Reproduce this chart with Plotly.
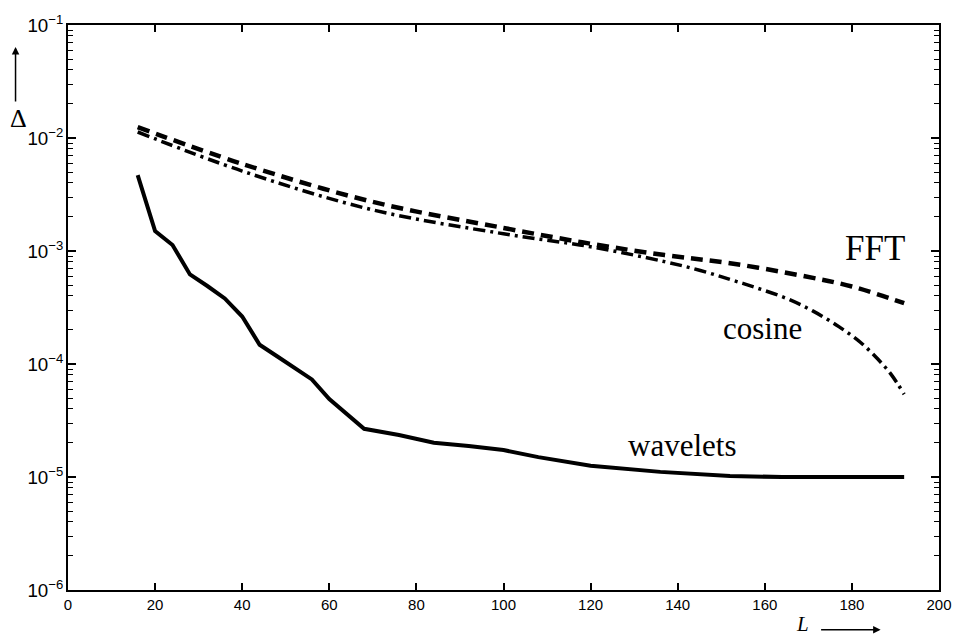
import plotly.graph_objects as go

# ---- data ----
L_wav = [16, 20, 24, 28, 32, 36, 40, 44, 48, 56, 60, 68, 76, 84, 92, 100, 108, 120, 136, 152, 164, 192]
wavelets = [4.7e-3, 1.50e-3, 1.13e-3, 6.2e-4, 4.9e-4, 3.8e-4, 2.63e-4, 1.48e-4, 1.17e-4, 7.3e-5,
            4.9e-5, 2.67e-5, 2.35e-5, 2.01e-5, 1.88e-5, 1.73e-5, 1.50e-5, 1.26e-5, 1.11e-5,
            1.02e-5, 1.0e-5, 1.0e-5]

L_fft = [16, 40, 70, 100, 120, 137, 152, 168, 180, 192]
fft = [1.25e-2, 5.9e-3, 2.72e-3, 1.60e-3, 1.16e-3, 9.2e-4, 7.8e-4, 6.1e-4, 4.85e-4, 3.45e-4]

L_cos = [16, 40, 70, 100, 120, 137, 145, 152, 158, 165, 171, 177, 182, 186, 189, 192]
cosine = [1.13e-2, 5.1e-3, 2.31e-3, 1.42e-3, 1.09e-3, 8.05e-4, 6.76e-4, 5.6e-4, 4.73e-4, 3.8e-4,
          2.95e-4, 2.14e-4, 1.55e-4, 1.10e-4, 8.1e-5, 5.4e-5]

x_ticks = [0, 20, 40, 60, 80, 100, 120, 140, 160, 180, 200]

# ---- layout geometry (pixels) ----
W, H = 964, 637
X0, X1, Y0, Y1 = 68, 948, 22, 590  # plot area left, right, top, bottom


def px(x, y):
    return (x - X0) / (X1 - X0), (Y1 - y) / (Y1 - Y0)


fig = go.Figure()
fig.add_trace(go.Scatter(x=L_fft, y=fft, mode="lines", line_shape="spline",
                         line=dict(color="black", width=4.5, dash="12px,7px")))
fig.add_trace(go.Scatter(x=L_cos, y=cosine, mode="lines", line_shape="spline",
                         line=dict(color="black", width=3.5, dash="12px,5px,3px,5px")))
fig.add_trace(go.Scatter(x=L_wav, y=wavelets, mode="lines",
                         line=dict(color="black", width=4)))

tickfont = dict(family="Liberation Sans, Arial, sans-serif", size=15, color="black")
serif = "Liberation Serif, Times New Roman, serif"

fig.update_xaxes(range=[0, 200], tickvals=x_ticks, ticks="inside", ticklen=7, tickwidth=1.5,
                 showline=True, linecolor="black", linewidth=1.5, mirror="allticks",
                 showgrid=False, zeroline=False, tickfont=tickfont, tickcolor="black")
fig.update_yaxes(type="log", range=[-6, -1], dtick=1, exponentformat="power",
                 ticks="inside", ticklen=8, tickwidth=1.5,
                 minor=dict(ticks="inside", ticklen=5, tickwidth=1.2, tickcolor="black", dtick="D1", showgrid=False),
                 showline=True, linecolor="black", linewidth=1.5, mirror="allticks",
                 showgrid=False, zeroline=False, tickfont=tickfont, tickcolor="black")

annotations = []
for text, (x, y), size in [("FFT", (883, 247), 35), ("cosine", (770, 327), 31), ("wavelets", (688, 445), 31)]:
    ax_, ay_ = px(x, y)
    annotations.append(dict(text=text, x=ax_, y=ay_, xref="paper", yref="paper", showarrow=False,
                            font=dict(family=serif, size=size, color="black"),
                            xanchor="center", yanchor="middle"))

# y label Delta with up arrow
dx, dy = px(18, 116)
annotations.append(dict(text="Δ", x=dx, y=dy, xref="paper", yref="paper", showarrow=False,
                        font=dict(family=serif, size=26, color="black"), xanchor="center", yanchor="middle"))
hx, hy = px(15, 44)
annotations.append(dict(text="", x=hx, y=hy, xref="paper", yref="paper", showarrow=True,
                        ax=0, ay=56, arrowhead=2, arrowsize=1, arrowwidth=1.5, arrowcolor="black"))
# x label L with right arrow
lx, ly = px(810, 624)
annotations.append(dict(text="<i>L</i>", x=lx, y=ly, xref="paper", yref="paper", showarrow=False,
                        font=dict(family=serif, size=21, color="black"), xanchor="center", yanchor="middle"))
hx, hy = px(889, 630)
annotations.append(dict(text="", x=hx, y=hy, xref="paper", yref="paper", showarrow=True,
                        ax=-61, ay=0, arrowhead=2, arrowsize=1, arrowwidth=1.5, arrowcolor="black"))

fig.update_layout(width=W, height=H, margin=dict(l=X0, r=W - X1, t=Y0, b=H - Y1),
                  plot_bgcolor="white", paper_bgcolor="white", showlegend=False,
                  annotations=annotations)

fig.write_html("out.html")
